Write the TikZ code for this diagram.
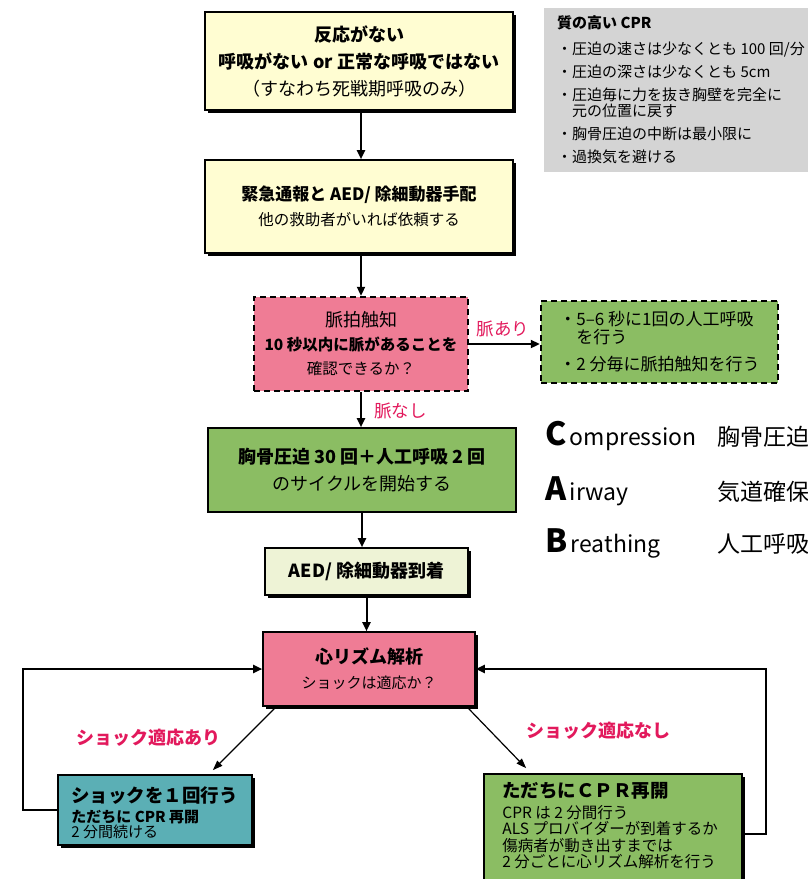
\documentclass[tikz,border=0pt]{standalone}
\usepackage{fontspec}
\setmainfont{Noto Sans CJK JP}
\usetikzlibrary{arrows.meta,shadows,calc}
\definecolor{cream}{HTML}{FFFDD2}
\definecolor{pinkbox}{HTML}{EF7C95}
\definecolor{greenbox}{HTML}{8BBD63}
\definecolor{lightgreen}{HTML}{EEF3D6}
\definecolor{tealbox}{HTML}{5BAFB5}
\definecolor{panelgray}{HTML}{D4D4D4}
\definecolor{labelred}{HTML}{E2195C}
\newcommand{\fsz}[2]{\fontsize{#1}{#2}\selectfont}
\begin{document}
\begin{tikzpicture}[x=1pt,y=-1pt,
  box/.style={draw=black, line width=1.6pt, rectangle, inner sep=0pt, align=center},
  shad/.style={drop shadow={shadow xshift=3pt, shadow yshift=-3pt, fill=black, opacity=1}},
  dbox/.style={draw=black, line width=2.4pt, dash pattern=on 6pt off 4pt, rectangle, inner sep=0pt},
  conn/.style={line width=2pt, -{Triangle[length=9pt,width=8pt]}},
  thinconn/.style={line width=1.2pt, -{Triangle[length=10pt,width=7pt]}},
  lbl/.style={text=labelred, inner sep=0pt, font=\fsz{17.5}{20}},
  lblb/.style={text=labelred, inner sep=0pt, font=\fsz{18}{20}\bfseries},
  txt/.style={inner sep=0pt, align=left, anchor=north west},
  big/.style={inner sep=0pt, anchor=base west, font=\fsz{32}{34}\bfseries},
  word/.style={inner sep=0pt, anchor=base west, font=\fsz{23}{26}}
]
\useasboundingbox (0,0) rectangle (808,879);
\clip (0,0) rectangle (808,879);

% quality CPR panel
\node[fill=panelgray, minimum width=276, minimum height=164, inner sep=0pt, anchor=north west] (gp) at (544,8) {};
\node[txt, font=\fsz{15}{16}] (tp) at ($(gp.north west)+(13,7)$) {%
{\bfseries 質の高い CPR}\\[10pt]
・圧迫の速さは少なくとも 100 回/分\\[7pt]
・圧迫の深さは少なくとも 5cm\\[7pt]
・圧迫毎に力を抜き胸壁を完全に\\
\hspace*{1em}元の位置に戻す\\[7pt]
・胸骨圧迫の中断は最小限に\\[7pt]
・過換気を避ける};

% flow boxes
\node[box, shad, fill=cream, minimum width=308, minimum height=98, font=\fsz{18}{27}] (n1) at (359,61)
  {{\bfseries 反応がない}\\{\bfseries 呼吸がない or 正常な呼吸ではない}\\（すなわち死戦期呼吸のみ）};
\node[box, shad, fill=cream, minimum width=308, minimum height=93, font=\fsz{17}{25}] (n2) at (359,206.5)
  {{\bfseries 緊急通報と AED/ 除細動器手配}\\{\fsz{15.5}{25}他の救助者がいれば依頼する}};
\node[dbox, fill=pinkbox, minimum width=214, minimum height=94, align=center, font=\fsz{15.5}{24}] (n3) at (361,344)
  {{\fsz{18}{24}脈拍触知}\\{\bfseries 10 秒以内に脈があることを}\\確認できるか？};
\node[dbox, fill=greenbox, minimum width=237, minimum height=82, align=left, font=\fsz{17}{18}] (n4) at (659.5,342)
  {・5–6 秒に1回の人工呼吸\\\hspace*{1em}を行う\\[9pt]・2 分毎に脈拍触知を行う};
\node[box, fill=greenbox, minimum width=308, minimum height=84, font=\fsz{18}{27}] (n5) at (362,470)
  {{\bfseries 胸骨圧迫 30 回＋人工呼吸 2 回}\\のサイクルを開始する};
\node[box, shad, fill=lightgreen, minimum width=203, minimum height=47, font=\fsz{18}{20}\bfseries] (n6) at (366.5,571.5)
  {AED/ 除細動器到着};
\node[box, shad, fill=pinkbox, minimum width=212, minimum height=74, font=\fsz{15}{25}] (n7) at (369,669)
  {{\fsz{18}{25}\bfseries 心リズム解析}\\ショックは適応か？};
\node[box, shad, fill=tealbox, minimum width=194, minimum height=70] (n8) at (155,810) {};
\node[txt, font=\fsz{15}{15}] (t8) at ($(n8.north west)+(14,12)$)
  {{\fsz{18.5}{22}\bfseries ショックを１回行う}\\[5pt]{\bfseries ただちに CPR 再開}\\2 分間続ける};
\node[box, shad, fill=greenbox, minimum width=258, minimum height=120] (n9) at (613,834) {};
\node[txt, font=\fsz{15.5}{16.5}] (t9) at ($(n9.north west)+(19,9)$)
  {{\fsz{18.5}{22}\bfseries ただちにＣＰＲ再開}\\[4pt]CPR は 2 分間行う\\ALS プロバイダーが到着するか\\傷病者が動き出すまでは\\2 分ごとに心リズム解析を行う};

% CAB
\node[big] (cC) at (545,445) {C};
\node[word] (cw) at ($(cC.base east)+(3,0)$) {ompression};
\node[word] (cj) at (717,445) {胸骨圧迫};
\node[big] (aA) at (545,500) {A};
\node[word] (aw) at ($(aA.base east)+(3,0)$) {irway};
\node[word] (aj) at (717,500) {気道確保};
\node[big] (bB) at (545,552) {B};
\node[word] (bw) at ($(bB.base east)+(3,0)$) {reathing};
\node[word] (bj) at (717,552) {人工呼吸};

% connectors
\draw[conn] (n1.south -| n3.north) -- (n2.north -| n3.north);
\draw[conn] (n2.south -| n3.north) -- (n3.north);
\draw[conn] (n3.south) -- (n3.south |- n5.north);
\draw[conn] (n3.east) -- (n3.east -| n4.west);
\draw[conn] (n5.south) -- (n5.south |- n6.north);
\draw[conn] (n6.south) -- (n6.south |- n7.north);
\draw[thinconn] ($(n7.south west)+(12,2)$) -- ($(n8.north east)+(-40,-4)$);
\draw[thinconn] ($(n7.south east)+(-7,2)$) -- ($(n9.north west)+(43,-5)$);
\draw[conn] (n8.west) -- ++(-34,0) |- (n7.west);
\draw[conn] (n9.east) -- ++(23,0) |- (n7.east);

% labels
\node[lbl] (la) at (503,329) {脈あり};
\node[lbl, anchor=west] (lb) at (374,411) {脈なし};
\node[lblb] (lc) at (148,738) {ショック適応あり};
\node[lblb] (ld) at (598,731) {ショック適応なし};
\end{tikzpicture}
\end{document}
